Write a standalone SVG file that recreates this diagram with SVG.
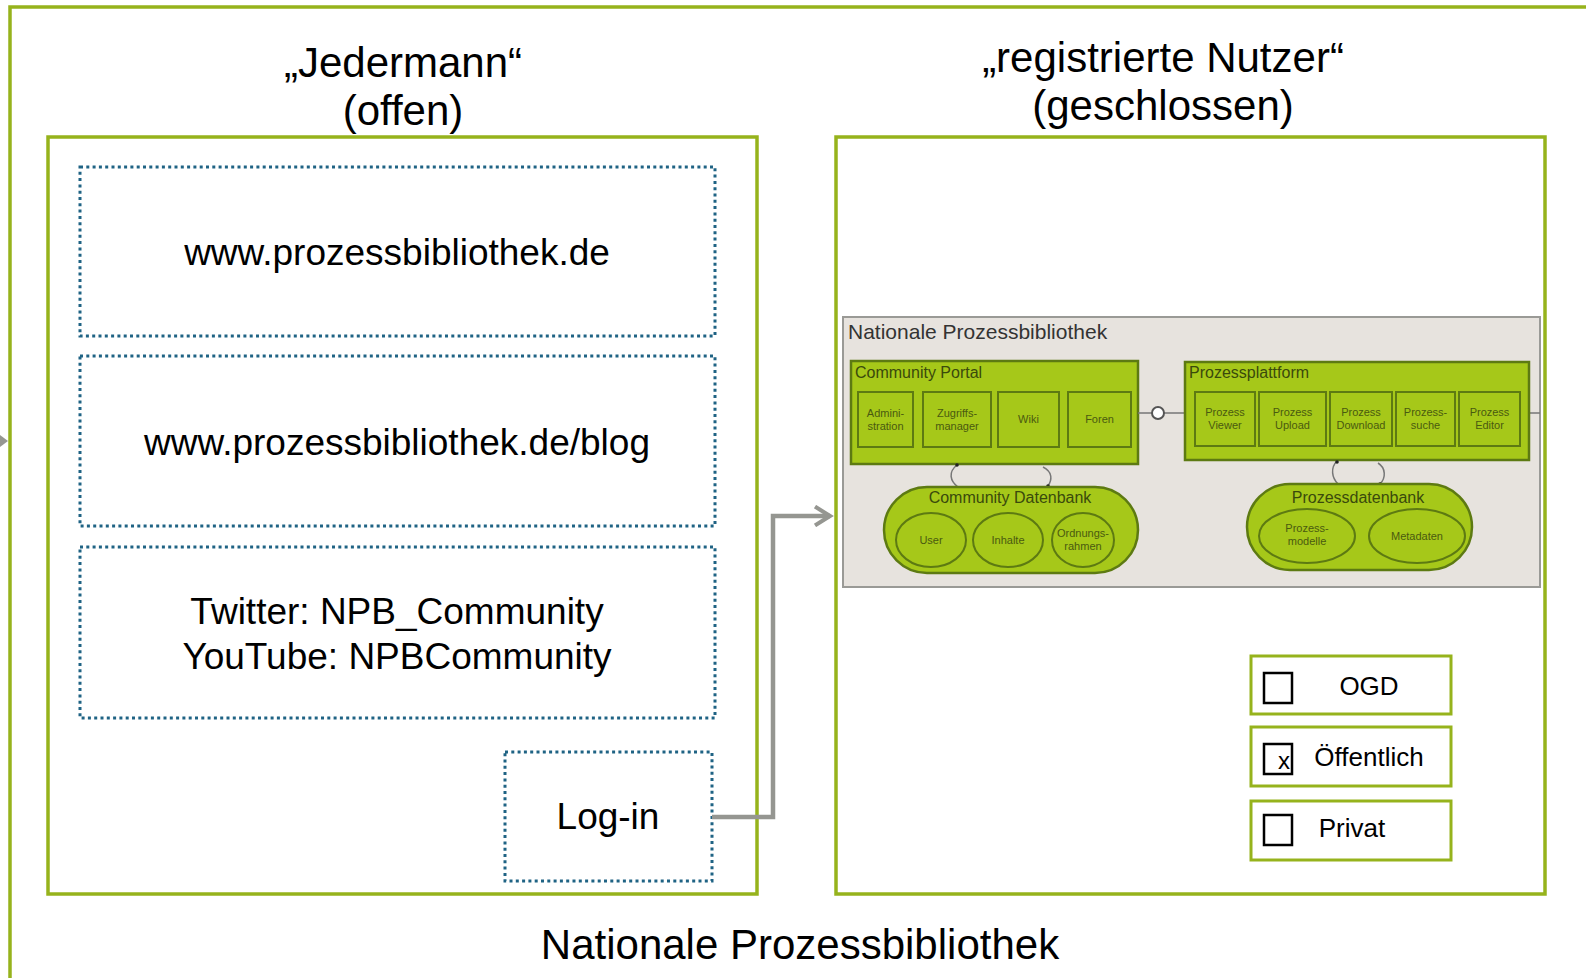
<svg xmlns="http://www.w3.org/2000/svg" width="1586" height="978" viewBox="0 0 1586 978">
<defs>
<style>
.frame{fill:none;stroke:#96b31c;stroke-width:3.5}
.dot{fill:#fff;stroke:#1f6384;stroke-width:3;stroke-dasharray:3 3.3}
.big{font-family:"Liberation Sans",Arial,sans-serif;fill:#000}
.conn{fill:none;stroke:#959691;stroke-width:4.5}
.g{fill:#a6c819;stroke:#5d7a12;stroke-width:2.5}
.sub{fill:#a6c819;stroke:#5d7a12;stroke-width:2}
.st{font-family:"Liberation Sans",Arial,sans-serif;fill:#4a5a10;font-size:11px;text-anchor:middle}
.lt{font-family:"Liberation Sans",Arial,sans-serif;fill:#3a4a0c;font-size:16px}
.cb{fill:none;stroke:#000;stroke-width:2.5}
.opt{fill:#fff;stroke:#96b31c;stroke-width:3}
</style>
<marker id="chev" viewBox="0 0 12 12" refX="10" refY="6" markerWidth="5" markerHeight="5" markerUnits="strokeWidth" orient="auto">
<path d="M2,1 L10,6 L2,11" fill="none" stroke="#959691" stroke-width="2.2"/>
</marker>
</defs>
<rect width="1586" height="978" fill="#fff"/>
<g id="outer-frame">
<path class="frame" d="M10,990 L10,7 L1600,7"/>
<polygon points="0,435 8,441 0,447" fill="#959691"/>
<text class="big" x="800" y="959" font-size="42" text-anchor="middle">Nationale Prozessbibliothek</text>
</g>
<g id="left-panel">
<rect class="frame" x="48" y="137" width="709" height="757"/>
<text class="big" x="403" y="77" font-size="42" text-anchor="middle">„Jedermann“</text>
<text class="big" x="403" y="125" font-size="42" text-anchor="middle">(offen)</text>
</g>
<g id="node-web">
<rect class="dot" x="80" y="167" width="635" height="169"/>
<text class="big" x="397" y="265" font-size="37" text-anchor="middle">www.prozessbibliothek.de</text>
</g>
<g id="node-blog">
<rect class="dot" x="80" y="356" width="635" height="170"/>
<text class="big" x="397" y="455" font-size="37" text-anchor="middle">www.prozessbibliothek.de/blog</text>
</g>
<g id="node-social">
<rect class="dot" x="80" y="547" width="635" height="171"/>
<text class="big" x="397" y="624" font-size="37" text-anchor="middle">Twitter: NPB_Community</text>
<text class="big" x="397" y="669" font-size="37" text-anchor="middle">YouTube: NPBCommunity</text>
</g>
<g id="node-login">
<rect class="dot" x="505" y="752" width="207" height="129"/>
<text class="big" x="608" y="829" font-size="37" text-anchor="middle">Log-in</text>
</g>
<g id="connectors">
<path class="conn" d="M712,817 L773,817 L773,516 L830,516" marker-end="url(#chev)"/>
</g>
<g id="right-panel">
<rect class="frame" x="836" y="137" width="709" height="757"/>
<text class="big" x="1163" y="72" font-size="42" text-anchor="middle">„registrierte Nutzer“</text>
<text class="big" x="1163" y="120" font-size="42" text-anchor="middle">(geschlossen)</text>
</g>
<g id="npb-architecture">
<rect x="843" y="317" width="697" height="270" fill="#e7e3de" stroke="#9a9a96" stroke-width="2"/>
<text x="848" y="339" font-family="Liberation Sans, Arial, sans-serif" font-size="21" fill="#333">Nationale Prozessbibliothek</text>
<g id="community-portal">
<rect class="g" x="851" y="361" width="287" height="103"/>
<text class="lt" x="855" y="378">Community Portal</text>
<rect class="sub" x="858" y="392" width="55" height="55"/>
<text class="st" x="885.5" y="417">Admini-</text><text class="st" x="885.5" y="430">stration</text>
<rect class="sub" x="923" y="392" width="68" height="55"/>
<text class="st" x="957" y="417">Zugriffs-</text><text class="st" x="957" y="430">manager</text>
<rect class="sub" x="998" y="392" width="61" height="55"/>
<text class="st" x="1028.5" y="423">Wiki</text>
<rect class="sub" x="1068" y="392" width="63" height="55"/>
<text class="st" x="1099.5" y="423">Foren</text>
</g>
<g id="interface">
<path d="M1138,413 L1152,413 M1164,413 L1185,413 M1529,413 L1540,413" stroke="#777" stroke-width="1.5" fill="none"/>
<circle cx="1158" cy="413" r="6" fill="#fff" stroke="#555" stroke-width="2"/>
</g>
<g id="prozessplattform">
<rect class="g" x="1185" y="362" width="344" height="98"/>
<text class="lt" x="1189" y="378">Prozessplattform</text>
<rect class="sub" x="1195" y="392" width="60" height="54"/>
<text class="st" x="1225" y="416">Prozess</text><text class="st" x="1225" y="429">Viewer</text>
<rect class="sub" x="1259" y="392" width="67" height="54"/>
<text class="st" x="1292.5" y="416">Prozess</text><text class="st" x="1292.5" y="429">Upload</text>
<rect class="sub" x="1330" y="392" width="62" height="54"/>
<text class="st" x="1361" y="416">Prozess</text><text class="st" x="1361" y="429">Download</text>
<rect class="sub" x="1396" y="392" width="59" height="54"/>
<text class="st" x="1425.5" y="416">Prozess-</text><text class="st" x="1425.5" y="429">suche</text>
<rect class="sub" x="1459" y="392" width="61" height="54"/>
<text class="st" x="1489.5" y="416">Prozess</text><text class="st" x="1489.5" y="429">Editor</text>
</g>
<g id="db-links" fill="none" stroke="#777" stroke-width="1.5">
<path d="M957,465 C948,472 950,481 958,487"/>
<path d="M1043,467 C1053,472 1052,480 1048,486"/>
<path d="M1337,461 C1330,468 1332,478 1338,484"/>
<path d="M1378,463 C1386,468 1386,478 1380,484"/>
<circle cx="957" cy="465" r="1.8" fill="#222" stroke="none"/>
<circle cx="1048" cy="486" r="1.8" fill="#222" stroke="none"/>
<circle cx="1337" cy="462" r="1.8" fill="#222" stroke="none"/>
<circle cx="1380" cy="484" r="1.8" fill="#222" stroke="none"/>
</g>
<g id="community-datenbank">
<rect class="g" x="884" y="487" width="254" height="86" rx="43"/>
<text class="lt" x="1010" y="503" text-anchor="middle">Community Datenbank</text>
<ellipse class="sub" cx="931" cy="540" rx="35" ry="27"/>
<text class="st" x="931" y="544">User</text>
<ellipse class="sub" cx="1008" cy="540" rx="35" ry="27"/>
<text class="st" x="1008" y="544">Inhalte</text>
<ellipse class="sub" cx="1083" cy="540" rx="31" ry="27"/>
<text class="st" x="1083" y="537">Ordnungs-</text><text class="st" x="1083" y="550">rahmen</text>
</g>
<g id="prozessdatenbank">
<rect class="g" x="1247" y="484" width="225" height="86" rx="43"/>
<text class="lt" x="1358" y="503" text-anchor="middle">Prozessdatenbank</text>
<ellipse class="sub" cx="1307" cy="536" rx="48" ry="27"/>
<text class="st" x="1307" y="532">Prozess-</text><text class="st" x="1307" y="545">modelle</text>
<ellipse class="sub" cx="1417" cy="536" rx="48" ry="27"/>
<text class="st" x="1417" y="540">Metadaten</text>
</g>
</g>
<g id="option-ogd">
<rect class="opt" x="1251" y="656" width="200" height="58"/>
<rect class="cb" x="1264" y="673" width="28" height="30"/>
<text class="big" x="1369" y="695" font-size="26" text-anchor="middle">OGD</text>
</g>
<g id="option-oeffentlich">
<rect class="opt" x="1251" y="727" width="200" height="59"/>
<rect class="cb" x="1264" y="744" width="28" height="30"/>
<text class="big" x="1278" y="769" font-size="24">x</text>
<text class="big" x="1369" y="766" font-size="26" text-anchor="middle">Öffentlich</text>
</g>
<g id="option-privat">
<rect class="opt" x="1251" y="801" width="200" height="59"/>
<rect class="cb" x="1264" y="815" width="28" height="30"/>
<text class="big" x="1352" y="837" font-size="26" text-anchor="middle">Privat</text>
</g>
</svg>
